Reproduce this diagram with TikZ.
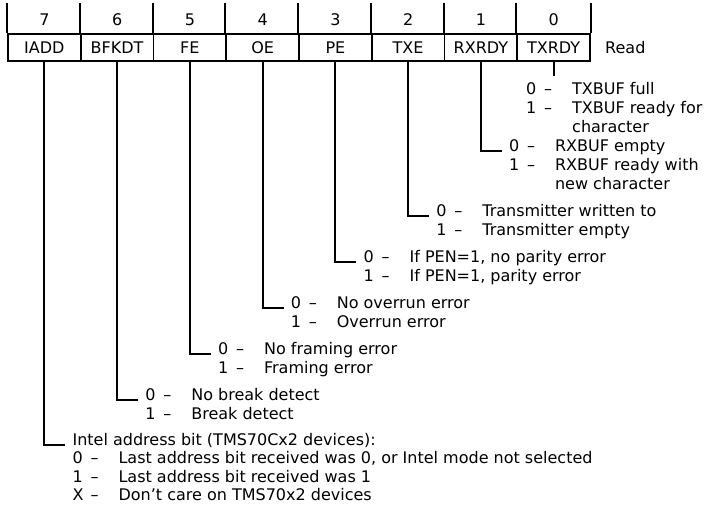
\documentclass[tikz,border=0pt]{standalone}
\usepackage{fontspec}
\setmainfont{DejaVu Sans}
\usetikzlibrary{positioning}

\tikzset{
  reg/.style={draw, line width=1.8pt, minimum width=72.75pt, minimum height=27pt,
    inner sep=0pt, font=\fontsize{16}{19}\selectfont},
  bitnum/.style={inner sep=0pt, font=\fontsize{16}{19}\selectfont},
  desc/.style={anchor=base west, inner xsep=7pt, inner ysep=0pt,
    font=\fontsize{16}{19}\selectfont},
  lead/.style={line width=1.8pt},
}
\newcommand{\bitval}[2]{\makebox[16pt][l]{#1}\makebox[12pt][c]{--}\hspace{18pt}#2}
\newcommand{\contline}[1]{\hspace{46pt}#1}

\begin{document}
\begin{tikzpicture}[x=1pt, y=-1pt, node distance=72.75pt, on grid]
        \useasboundingbox (0,0) rectangle (709,504);

        % register cells
        \node[reg] (iadd) at (44.375,47.5) {IADD};
        \node[reg] (bfkdt) [right=of iadd] {BFKDT};
        \node[reg] (fe) [right=of bfkdt] {FE};
        \node[reg] (oe) [right=of fe] {OE};
        \node[reg] (pe) [right=of oe] {PE};
        \node[reg] (txe) [right=of pe] {TXE};
        \node[reg] (rxrdy) [right=of txe] {RXRDY};
        \node[reg] (txrdy) [right=of rxrdy] {TXRDY};
        \node[bitnum, anchor=west] (read) at (605,47.5) {Read};

        % bit numbers
        \foreach \r/\n in {iadd/7, bfkdt/6, fe/5, oe/4, pe/3, txe/2, rxrdy/1, txrdy/0} {
            \node[bitnum] (n\n) [above=27.5pt of \r] {\n};
            \draw[lead] (\r.north west) -- ++(0,-30);
        }
        \draw[lead] (txrdy.north east) -- ++(0,-30);

        % bit descriptions
        \node[desc] (txrdy0) at (519,94) {\bitval{0}{TXBUF full}};
        \node[desc] (txrdy1) at ([yshift=-19pt]txrdy0.base west) {\bitval{1}{TXBUF ready for}};
        \node[desc] (txrdy2) at ([yshift=-19pt]txrdy1.base west) {\contline{character}};

        \node[desc] (rxrdy0) at (501.875,151) {\bitval{0}{RXBUF empty}};
        \node[desc] (rxrdy1) at ([yshift=-19pt]rxrdy0.base west) {\bitval{1}{RXBUF ready with}};
        \node[desc] (rxrdy2) at ([yshift=-19pt]rxrdy1.base west) {\contline{new character}};

        \node[desc] (txe0) at (429.125,216) {\bitval{0}{Transmitter written to}};
        \node[desc] (txe1) at ([yshift=-19pt]txe0.base west) {\bitval{1}{Transmitter empty}};

        \node[desc] (pe0) at (356.375,262) {\bitval{0}{If PEN=1, no parity error}};
        \node[desc] (pe1) at ([yshift=-19pt]pe0.base west) {\bitval{1}{If PEN=1, parity error}};

        \node[desc] (oe0) at (283.625,308) {\bitval{0}{No overrun error}};
        \node[desc] (oe1) at ([yshift=-19pt]oe0.base west) {\bitval{1}{Overrun error}};

        \node[desc] (fe0) at (210.875,354) {\bitval{0}{No framing error}};
        \node[desc] (fe1) at ([yshift=-19pt]fe0.base west) {\bitval{1}{Framing error}};

        \node[desc] (bfkdt0) at (138.125,400) {\bitval{0}{No break detect}};
        \node[desc] (bfkdt1) at ([yshift=-19pt]bfkdt0.base west) {\bitval{1}{Break detect}};

        \node[desc] (iaddh) at (65.375,445) {Intel address bit (TMS70Cx2 devices):};
        \node[desc] (iadd0) at ([yshift=-18.5pt]iaddh.base west) {\bitval{0}{Last address bit received was 0, or Intel mode not selected}};
        \node[desc] (iadd1) at ([yshift=-18.5pt]iadd0.base west) {\bitval{1}{Last address bit received was 1}};
        \node[desc] (iaddx) at ([yshift=-18.5pt]iadd1.base west) {\bitval{X}{Don't care on TMS70x2 devices}};

        % leaders
        \draw[lead] (txrdy.south) -- ++(0,14);
        \draw[lead] (rxrdy.south) |- (rxrdy0.base west);
        \draw[lead] (txe.south) |- (txe0.base west);
        \draw[lead] (pe.south) |- (pe0.base west);
        \draw[lead] (oe.south) |- (oe0.base west);
        \draw[lead] (fe.south) |- (fe0.base west);
        \draw[lead] (bfkdt.south) |- (bfkdt0.base west);
        \draw[lead] (iadd.south) |- (iaddh.base west);

    \end{tikzpicture}
\end{document}
